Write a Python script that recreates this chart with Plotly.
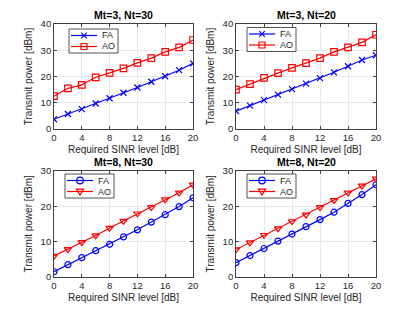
import plotly.graph_objects as go

sinr = [0, 2, 4, 6, 8, 10, 12, 14, 16, 18, 20]

fa_3_30 = [3.7, 5.7, 7.6, 9.7, 11.7, 13.8, 15.8, 18.0, 20.1, 22.4, 25.0]
ao_3_30 = [12.5, 15.5, 16.8, 19.7, 21.4, 23.1, 25.2, 27.0, 29.4, 31.1, 33.9]

fa_3_20 = [6.8, 8.9, 11.0, 13.1, 15.2, 17.3, 19.4, 21.6, 23.9, 26.3, 28.1]
ao_3_20 = [15.0, 17.1, 19.5, 21.3, 23.3, 25.1, 27.0, 29.4, 31.1, 33.0, 35.9]

fa_8_30 = [1.4, 3.4, 5.4, 7.4, 9.2, 11.3, 13.3, 15.5, 17.6, 19.9, 22.4]
ao_8_30 = [5.9, 7.8, 9.8, 11.7, 13.8, 15.8, 17.9, 19.7, 21.9, 23.8, 26.1]

fa_8_20 = [4.0, 6.0, 8.0, 10.1, 12.1, 14.2, 16.2, 18.3, 20.8, 23.3, 26.1]
ao_8_20 = [7.7, 9.7, 11.8, 13.7, 15.7, 17.6, 19.7, 21.7, 23.8, 25.8, 27.8]

titles = ["Mt=3, Nt=30", "Mt=3, Nt=20", "Mt=8, Nt=30", "Mt=8, Nt=20"]
xticks = [0, 4, 8, 12, 16, 20]
xlabel = "Required SINR level [dB]"
ylabel = "Transmit power [dBm]"
series_names = ["FA", "AO"]
BLUE, RED = "rgb(0,0,255)", "rgb(255,0,0)"

panels = [
    (fa_3_30, ao_3_30, "x-thin-open", "square-open", [0, 40], [0, 10, 20, 30, 40]),
    (fa_3_20, ao_3_20, "x-thin-open", "square-open", [0, 40], [0, 10, 20, 30, 40]),
    (fa_8_30, ao_8_30, "circle-open", "triangle-down-open", [0, 30], [0, 10, 20, 30]),
    (fa_8_20, ao_8_20, "circle-open", "triangle-down-open", [0, 30], [0, 10, 20, 30]),
]

# page body has an 8px margin; figure is placed at (8, 8)
OFF = 8
W, H = 415 - 2 * OFF, 312 - 2 * OFF


def px_x(v):
    return (v - OFF) / W


def px_y(v):
    return 1 - (v - OFF) / H


xdoms = [[px_x(54), px_x(193)], [px_x(236), px_x(376)]]
ydoms = [[px_y(129), px_y(24)], [px_y(276.7), px_y(171)]]
FONT = "Liberation Sans, Arial, sans-serif"

fig = go.Figure()
layout = dict(
    width=W, height=H, margin=dict(l=0, r=0, t=0, b=0, autoexpand=False),
    paper_bgcolor="white", plot_bgcolor="white",
    font=dict(family=FONT, size=9, color="#262626"),
    showlegend=False,
    annotations=[], shapes=[],
)

# legend box top-left (page px) per panel
leg_pos = [(69, 29), (247, 27.5), (65, 174), (247, 174)]
LEG_W, LEG_H = 49, 24


def marker_shape(sym, xc, yc, color):
    base = dict(xref="paper", yref="paper", xsizemode="pixel", ysizemode="pixel",
                xanchor=px_x(xc), yanchor=px_y(yc),
                line=dict(color=color, width=1.2), layer="above")
    if sym.startswith("x"):
        return dict(base, type="path", path="M-2.8,-2.8 L2.8,2.8 M-2.8,2.8 L2.8,-2.8")
    if sym.startswith("square"):
        return dict(base, type="rect", x0=-3, x1=3, y0=-3, y1=3)
    if sym.startswith("circle"):
        return dict(base, type="circle", x0=-3.3, x1=3.3, y0=-3.3, y1=3.3)
    return dict(base, type="path", path="M-3.6,2.4 L3.6,2.4 L0,-3.6 Z")


for i, (fa, ao, mfa, mao, yr, yt) in enumerate(panels):
    r, c = divmod(i, 2)
    n = "" if i == 0 else str(i + 1)
    xa, ya = "x" + n, "y" + n
    fig.add_trace(go.Scatter(
        x=sinr, y=fa, name=series_names[0], mode="lines+markers",
        line=dict(color=BLUE, width=1.2),
        marker=dict(symbol=mfa, size=6, line=dict(color=BLUE, width=1.2)),
        xaxis=xa, yaxis=ya))
    fig.add_trace(go.Scatter(
        x=sinr, y=ao, name=series_names[1], mode="lines+markers",
        line=dict(color=RED, width=1.2),
        marker=dict(symbol=mao, size=6.5, line=dict(color=RED, width=1.2)),
        xaxis=xa, yaxis=ya))
    axcommon = dict(
        showline=True, linecolor="#404040", linewidth=0.8, mirror="ticks",
        ticks="inside", ticklen=3, tickcolor="#404040",
        showgrid=True, gridcolor="#e8e8e8", gridwidth=0.8, zeroline=False,
        tickfont=dict(family=FONT, size=9.5, color="#262626"),
        automargin=False,
    )
    layout["xaxis" + n] = dict(
        axcommon, domain=xdoms[c], range=[0, 20], tickvals=xticks,
        anchor=ya, title=dict(text=xlabel, font=dict(size=10, family=FONT, color="#262626"), standoff=3))
    layout["yaxis" + n] = dict(
        axcommon, domain=ydoms[r], range=yr, tickvals=yt,
        anchor=xa, title=dict(text=ylabel, font=dict(size=10, family=FONT, color="#262626"), standoff=6))

    # legend box
    lx, ly = leg_pos[i]
    layout["shapes"].append(dict(
        type="rect", xref="paper", yref="paper",
        x0=px_x(lx), x1=px_x(lx + LEG_W), y0=px_y(ly + LEG_H), y1=px_y(ly),
        fillcolor="white", line=dict(color="#262626", width=0.8), layer="above"))
    for k, (nm, col, sym) in enumerate([(series_names[0], BLUE, mfa), (series_names[1], RED, mao)]):
        yc = ly + 6.5 + 11 * k
        layout["shapes"].append(dict(
            type="line", xref="paper", yref="paper",
            x0=px_x(lx + 2), x1=px_x(lx + 28), y0=px_y(yc), y1=px_y(yc),
            line=dict(color=col, width=1.2), layer="above"))
        layout["shapes"].append(marker_shape(sym, lx + 15, yc, col))
        layout["annotations"].append(dict(
            text=nm, xref="paper", yref="paper", x=px_x(lx + 31), y=px_y(yc),
            xanchor="left", yanchor="middle", showarrow=False,
            font=dict(family=FONT, size=9, color="#262626")))

    layout["annotations"].append(dict(
        text="<b>" + titles[i] + "</b>", xref="paper", yref="paper",
        x=(xdoms[c][0] + xdoms[c][1]) / 2, y=ydoms[r][1], yanchor="bottom",
        xanchor="center", showarrow=False, yshift=1,
        font=dict(family=FONT, size=10.5, color="black")))

fig.update_layout(**layout)
fig.write_html("out.html")
